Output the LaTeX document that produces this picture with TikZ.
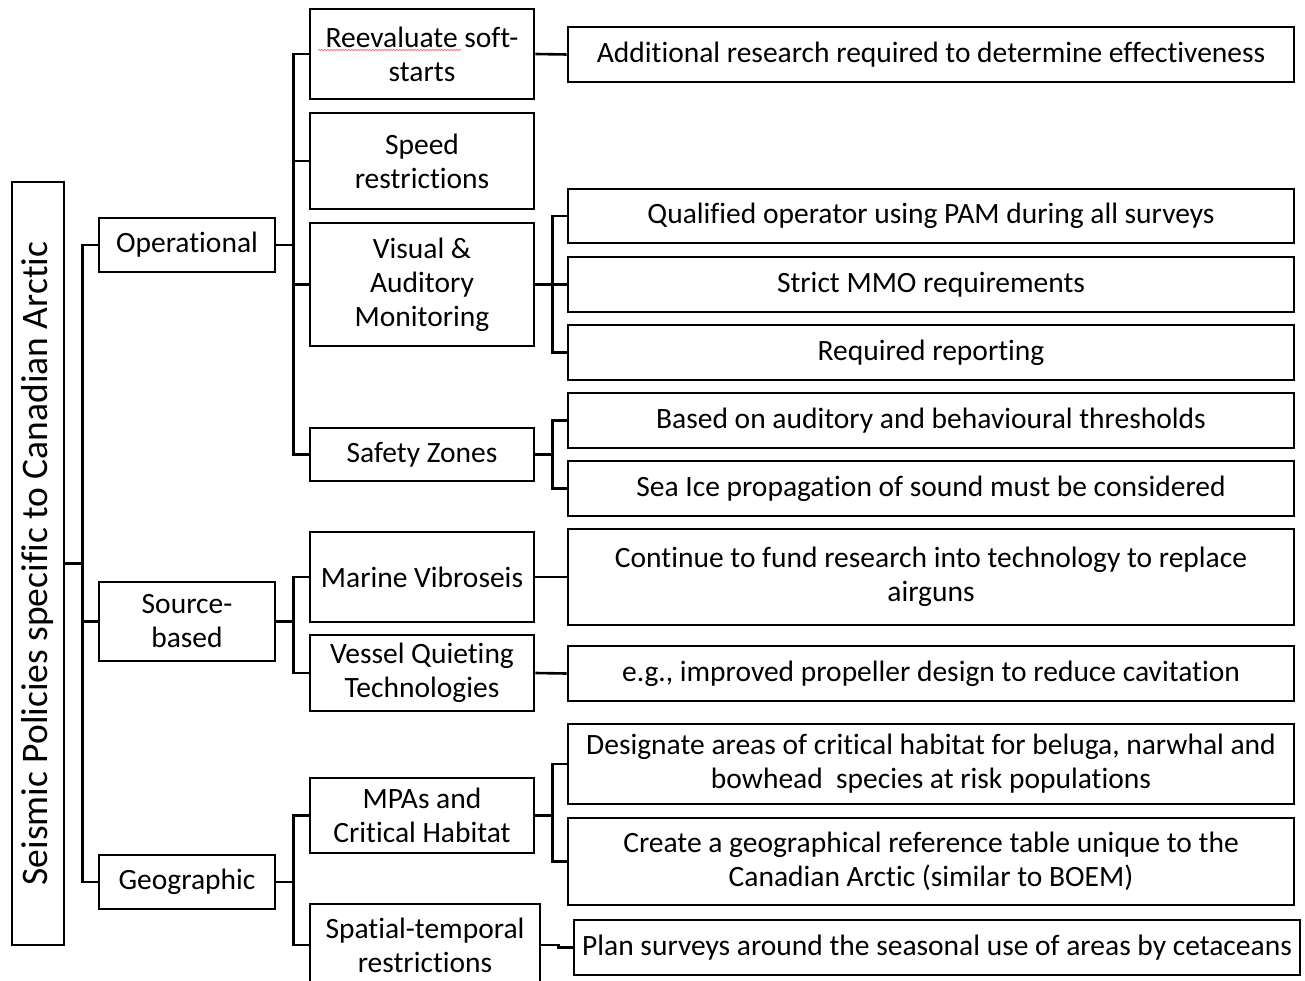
\documentclass[tikz,border=0pt]{standalone}
\usepackage{fontspec}
\setmainfont{Carlito}[Ligatures=NoCommon]
\usetikzlibrary{decorations.pathmorphing}
\begin{document}
\begin{tikzpicture}[x=1pt,y=-1pt,
  box/.style={draw=black, line width=2.6pt, inner sep=0pt, align=center,
    font=\fontsize{29.5}{34}\selectfont, anchor=center},
  lvlone/.style={box, minimum width=176pt},
  lvltwo/.style={box, minimum width=224pt},
  lvlthree/.style={box, minimum width=726pt},
  conn/.style={draw=black, line width=2.6pt}
]
\useasboundingbox (0,0) rectangle (1305,981);
% root
\node[box, minimum width=52pt, minimum height=763pt] (root) at (38,563.5) {};
\node[rotate=90, inner sep=0pt, font=\fontsize{37.5}{44}\selectfont] (roottext) at (root.center)
  {Seismic Policies specific to Canadian Arctic};
% level 1
\node[lvlone, minimum height=54pt] (op) at (187,245) {Operational};
\node[lvlone, minimum height=79pt] (src) at (187,621.5) {Source-\\based};
\node[lvlone, minimum height=54pt] (geo) at (187,882) {Geographic};
% level 2
\node[lvltwo, minimum height=90pt] (re) at (422,54) {Reevaluate soft-\\starts};
\node[lvltwo, minimum height=96pt] (sp) at (422,161) {Speed\\restrictions};
\node[lvltwo, minimum height=123pt] (vis) at (422,284.5) {Visual \&\\Auditory\\Monitoring};
\node[lvltwo, minimum height=53pt] (sz) at (422,454.5) {Safety Zones};
\node[lvltwo, minimum height=90pt] (mv) at (422,577) {Marine Vibroseis};
\node[lvltwo, minimum height=76pt] (vq) at (422,673) {Vessel Quieting\\Technologies};
\node[lvltwo, minimum height=75pt] (mpa) at (422,815.5) {MPAs and\\Critical Habitat};
\node[box, minimum width=230pt, minimum height=82pt] (st) at (425,945) {Spatial-temporal\\restrictions};
% level 3
\node[lvlthree, minimum height=55pt] (a1) at (931,54.5) {Additional research required to determine effectiveness};
\node[lvlthree, minimum height=54pt] (q) at (931,216) {Qualified operator using PAM during all surveys};
\node[lvlthree, minimum height=55pt] (s) at (931,284.5) {Strict MMO requirements};
\node[lvlthree, minimum height=55pt] (r) at (931,352.5) {Required reporting};
\node[lvlthree, minimum height=55pt] (b) at (931,420.5) {Based on auditory and behavioural thresholds};
\node[lvlthree, minimum height=55pt] (si) at (931,488.5) {Sea Ice propagation of sound must be considered};
\node[lvlthree, minimum height=96pt] (c) at (931,577) {Continue to fund research into technology to replace\\airguns};
\node[lvlthree, minimum height=55pt] (e) at (931,673.5) {e.g., improved propeller design to reduce cavitation};
\node[lvlthree, minimum height=80pt] (d) at (931,764) {Designate areas of critical habitat for beluga, narwhal and\\bowhead\ \ species at risk populations};
\node[lvlthree, minimum height=87pt] (cr) at (931,861.5) {Create a geographical reference table unique to the\\Canadian Arctic (similar to BOEM)};
\node[lvlthree, minimum height=55pt] (pl) at (937,947.5) {Plan surveys around the seasonal use of areas by cetaceans};
% connectors root
\draw[conn] (root.east) -- ++(17,0) coordinate (rb);
\draw[conn] (rb) |- (op.west);
\draw[conn] (rb) |- (src.west);
\draw[conn] (rb) |- (geo.west);
% op
\draw[conn] (op.east) -- ++(17,0) coordinate (ob);
\foreach \n in {re,sp,vis,sz} \draw[conn] (ob) |- (\n.west);
% src
\draw[conn] (src.east) -- ++(17,0) coordinate (sb);
\foreach \n in {mv,vq} \draw[conn] (sb) |- (\n.west);
% geo
\draw[conn] (geo.east) -- ++(17,0) coordinate (gb);
\foreach \n in {mpa,st} \draw[conn] (gb) |- (\n.west);
% level 2 -> 3
\draw[conn] (re.east) -- (a1.west);
\draw[conn] (vis.east) -- ++(17,0) coordinate (vb);
\foreach \n in {q,s,r} \draw[conn] (vb) |- (\n.west);
\draw[conn] (sz.east) -- ++(17,0) coordinate (zb);
\foreach \n in {b,si} \draw[conn] (zb) |- (\n.west);
\draw[conn] (mv.east) -- (c.west);
\draw[conn] (vq.east) -- (e.west);
\draw[conn] (mpa.east) -- ++(17,0) coordinate (mb);
\foreach \n in {d,cr} \draw[conn] (mb) |- (\n.west);
\draw[conn] (st.east) -- ++(17,0) |- (pl.west);
% spell-check squiggle
\draw[red!55, line width=0.8pt, decorate, decoration={snake, amplitude=0.7pt, segment length=3pt}] (318,50) -- (461,50);
\end{tikzpicture}
\end{document}
